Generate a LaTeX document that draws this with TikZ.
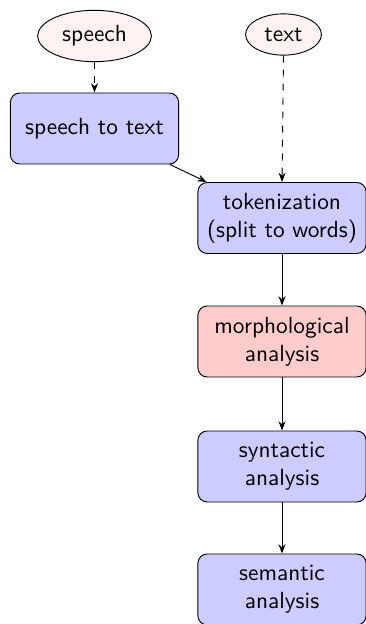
\documentclass[tikz,border=0pt]{standalone}
\usetikzlibrary{shapes.geometric,arrows.meta}
\begin{document}
\begin{tikzpicture}[x=0.428pt,y=-0.428pt,font=\sffamily,
  srcnode/.style={ellipse,draw,fill=red!5},
  stepbox/.style={rectangle,rounded corners=4pt,draw,fill=blue!20,
    inner xsep=1pt,text width=70pt,minimum width=72pt,minimum height=30.4pt,align=center},
  hibox/.style={stepbox,fill=red!20},
  conn/.style={-{Stealth[length=4pt,width=3pt]}},
  dconn/.style={conn,dashed}]
\useasboundingbox (0,0) rectangle (366,624);
\node[srcnode] (speech) at (94.5,36) {speech};
\node[srcnode] (text) at (283.5,34.5) {text};
\node[stepbox] (s2t) at (94.5,128.5) {speech to text};
\node[stepbox] (tok) at (282,218) {tokenization (split to words)};
\node[hibox] (morph) at (282,341.5) {morphological analysis};
\node[stepbox] (syn) at (282,466.5) {syntactic analysis};
\node[stepbox] (sem) at (282,589.5) {semantic analysis};
\draw[dconn] (speech) -- (s2t);
\draw[dconn] (text.south) -- (tok.north);
\draw[conn] (s2t) -- (tok);
\draw[conn] (tok) -- (morph);
\draw[conn] (morph) -- (syn);
\draw[conn] (syn) -- (sem);
\end{tikzpicture}
\end{document}
